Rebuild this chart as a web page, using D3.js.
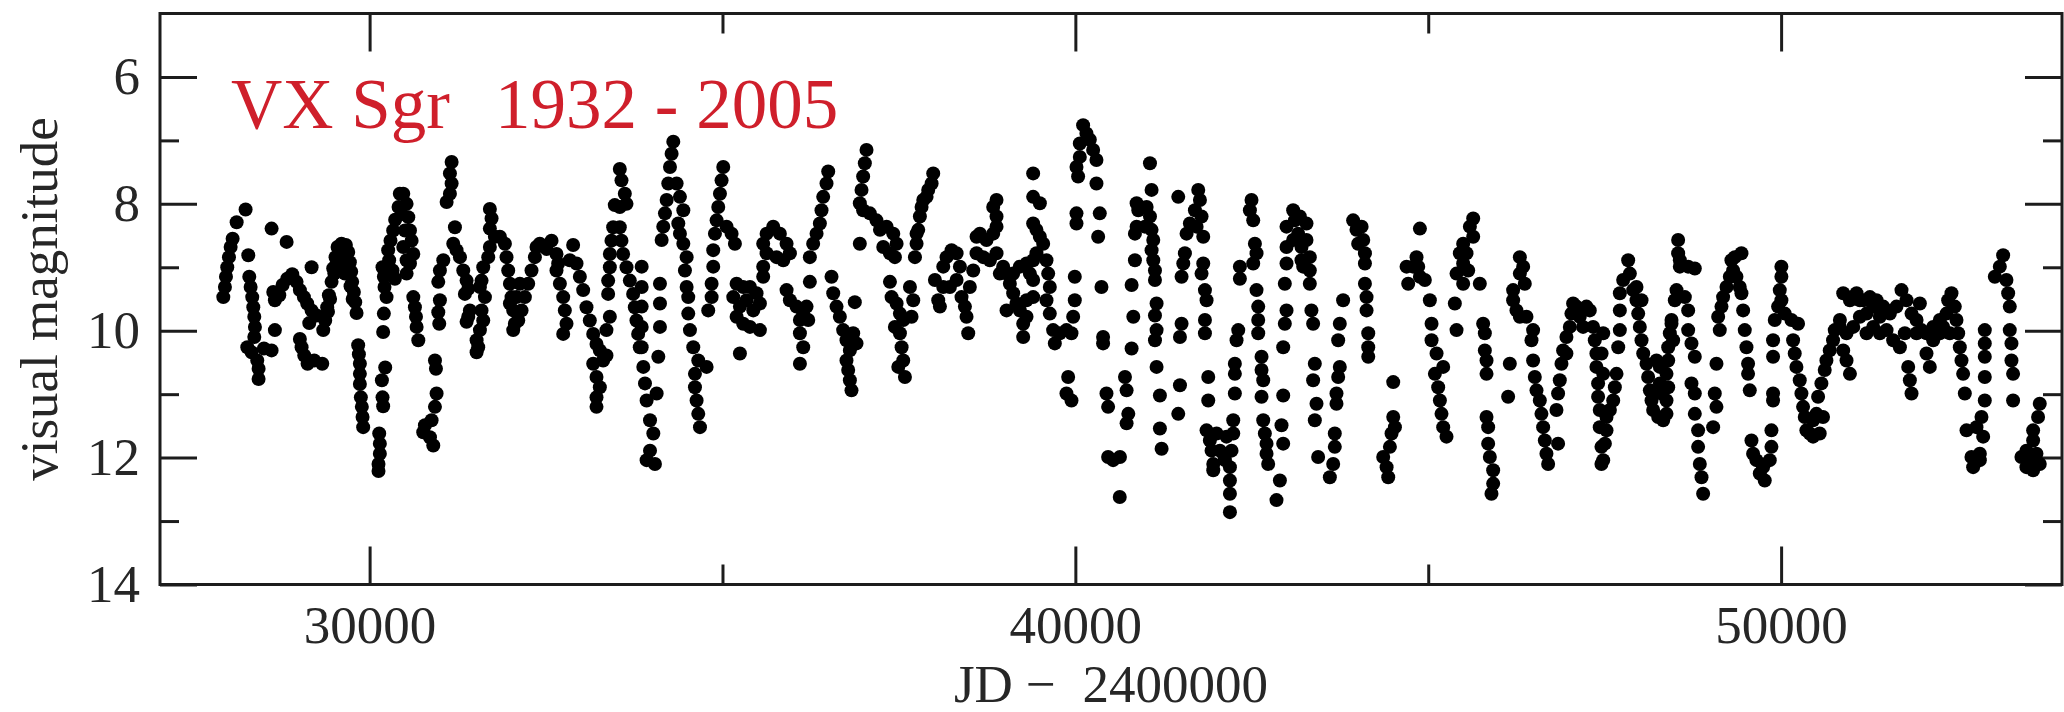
<!DOCTYPE html>
<html>
<head>
<meta charset="utf-8">
<script src="https://cdnjs.cloudflare.com/ajax/libs/d3/7.8.5/d3.min.js"></script>
<style>
  html, body { margin: 0; padding: 0; background: #fff; }
  svg { display: block; }
</style>
</head>
<body>
<div id="chart"></div>
<script>
// VX Sgr visual light curve, [JD - 2400000, visual magnitude]
const jd27k = [
  [27927,9.47],[27950,9.31],[27965,9.15],[27983,9.00],[28007,8.84],[28031,8.68],[28059,8.55],[28116,8.29],[28243,8.09],
  [28281,8.81],[28295,9.15],[28314,9.31],[28337,9.47],[28352,9.63],[28366,9.78],[28375,9.94],[28366,10.10],[28267,10.26],
  [28328,10.34],[28408,10.47],[28427,10.60],[28427,10.76],[28503,10.28],[28611,10.31],[28658,9.99],
  [28611,8.39],[28824,8.60],[29178,9.00],
  [28635,9.39],[28658,9.52],[28720,9.44],[28767,9.28],[28833,9.18],[28904,9.11],[28965,9.23],[29012,9.36],[29069,9.47],
  [29116,9.57],[29178,9.68],[29248,9.76],
  [29012,10.13],[29036,10.26],[29074,10.39],[29121,10.52],[29215,10.47],[29329,10.52],[29145,9.88],
  [29343,9.99],[29371,9.84],[29399,9.63],[29423,9.44],[29461,9.23],[29484,9.02],[29517,8.84],[29546,8.68],[29602,8.63],
  [29664,8.65],[29697,8.76],[29720,8.92],[29739,9.07],[29753,9.23],[29777,9.39],[29796,9.55],[29815,9.72],[29579,8.79],
  [29626,8.94],[29650,9.10],[29410,9.70],[29440,9.50],[29500,9.10],[29530,8.95],[29700,9.00],[29730,9.30],[29760,9.50],
  [29838,10.23],[29848,10.37],[29862,10.52],[29862,10.68],[29862,10.84],[29876,11.05],[29890,11.20],[29900,11.36],[29909,11.52],
  [30183,9.00],[30202,9.15],[30211,9.31],[30240,9.47],[30202,9.73],[30192,10.02],[30221,10.58],[30174,10.78],[30183,11.05],
  [30192,11.19],[30136,11.62],[30145,11.78],[30145,11.94],[30126,12.10],[30126,12.21],
  [30428,7.84],[30410,8.05],[30362,8.25],[30334,8.42],[30296,8.58],[30263,8.73],[30277,8.89],[30325,9.05],[30358,9.18]
];

const jd30k = [
  [30477,7.84],[30524,8.00],[30548,8.21],[30572,8.42],[30595,8.58],[30619,8.79],[30572,8.94],[30524,9.10],[30619,9.47],
  [30642,9.63],[30657,9.78],[30666,9.94],[30690,10.15],[30454,8.16],[30501,8.42],[30477,8.68],[30524,8.89],
  [31162,7.34],[31138,7.52],[31162,7.68],[31138,7.84],[31091,7.97],[31209,8.37],[31185,8.63],[31232,8.73],[31280,8.84],
  [31327,9.05],[31374,9.21],[31398,9.34],[31350,9.42],
  [31044,8.89],[30996,9.05],[30973,9.23],[30996,9.52],[30973,9.71],[30987,9.89],[30926,10.47],[30940,10.60],[30949,10.99],
  [30926,11.20],[30878,11.41],[30784,11.49],[30760,11.60],[30855,11.68],[30902,11.81],
  [31704,8.08],[31728,8.23],[31704,8.39],[31775,8.52],[31704,8.68],[31681,8.84],[31610,9.00],[31586,9.21],[31563,9.31],
  [31634,9.47],[31586,9.68],[31610,9.84],[31563,9.99],[31516,10.15],[31539,10.26],[31516,10.34],[31421,9.68],[31398,9.78],
  [31374,9.86],
  [31846,8.52],[31917,8.63],[31940,8.84],[31964,9.05],[31988,9.26],[32011,9.47],[32035,9.68],[32058,9.89],[32035,9.99],
  [32106,9.84],[32153,9.68],[32200,9.47],[32247,9.26],[32294,9.05],[32342,8.84],[32365,8.68],[32412,8.63],[32507,8.71],
  [32578,8.58],[32648,8.79],[32672,8.94],[32082,9.47],[32129,9.26],[31988,9.57],
  [32648,9.05],[32696,9.26],[32743,9.47],[32766,9.68],[32790,9.89],[32743,10.05],[32837,8.89],[32884,8.65],[32932,8.94],
  [32979,9.15],[33026,9.36],[33073,9.63],[33120,9.84],[33168,10.05],[33215,10.21],[33262,10.31],[33309,10.47],[33356,10.39],
  [33168,10.52],[33215,10.73],[33262,10.89],[33215,11.05],[33215,11.20],
  [33545,7.45],[33569,7.63],[33616,7.84],[33640,8.00],[33545,8.05],[33474,8.02],[33545,8.37],[33569,8.58],[33592,8.79],
  [33640,9.00],[33687,9.21],[33734,9.42],[33758,9.63],[33781,9.84],[33805,10.05],[33828,10.26],
  [33451,8.37],[33427,8.58],[33404,8.79],[33404,9.00],[33380,9.21],[33380,9.42],[33404,9.78],[33356,9.99]
];

const jd34k = [
  [33855,8.99],[33855,9.31],[33855,9.62],[33855,9.94],[33855,10.26],[33878,10.57],[33902,10.83],[33925,11.10],[33973,11.41],
  [34020,11.62],[33973,11.89],[33925,12.04],[34043,12.10],
  [34067,10.99],[34091,10.41],[34114,9.94],[34114,9.57],[34114,9.26],[34138,8.57],[34161,8.36],[34185,8.15],[34209,7.94],
  [34232,7.68],[34256,7.42],[34279,7.21],[34303,7.02],
  [34350,7.68],[34397,7.89],[34445,8.10],[34374,8.31],[34397,8.47],[34445,8.63],[34492,8.84],[34468,9.05],[34492,9.31],
  [34515,9.47],[34515,9.73],[34539,9.99],[34586,10.26],[34657,10.47],[34775,10.57],[34610,10.68],[34610,10.89],[34633,11.10],
  [34657,11.31],[34681,11.52],
  [35011,7.42],[34987,7.63],[34964,7.84],[34940,8.05],[34917,8.26],[34893,8.47],[35058,8.36],[35129,8.47],[35176,8.63],
  [34869,8.73],[34869,8.99],[34846,9.26],[34846,9.47],[34798,9.68],
  [35200,9.26],[35294,9.31],[35389,9.31],[35483,9.41],[35530,9.57],[35436,9.68],[35247,9.62],[35200,9.78],[35294,9.89],
  [35389,9.94],[35530,9.99],[35247,10.36],[35153,9.47],[35341,9.52],
  [35577,8.63],[35625,8.47],[35719,8.36],[35813,8.47],[35908,8.63],[35955,8.78],[35861,8.89],[35766,8.84],[35625,8.78],
  [35577,8.99],[35577,9.15],[35908,9.36],[35955,9.52],[36049,9.62],[36144,9.73],[36097,9.83],[36097,10.04],[36144,10.26],
  [36097,10.52],
  [36238,8.84],[36285,8.63],[36333,8.47],[36380,8.31],[36403,8.10],[36427,7.89],[36474,7.68],[36498,7.49],[36238,9.23],
  [36191,9.62],[36215,9.83],
  [36545,9.15],[36569,9.41],[36616,9.62],[36663,9.78],[36710,9.99],[36757,10.15],[36805,10.31],[36757,10.47],[36781,10.62],
  [36805,10.78],[36828,10.94],[36875,9.55],[36852,10.04],[36899,10.20],
  [37041,7.15],[37017,7.36],[36993,7.57],[36970,7.78],[36946,7.99],[36993,8.10],[37088,8.15],[37182,8.26],[36946,8.63]
];

const jd37k = [
  [37231,8.41],[37325,8.36],[37420,8.47],[37467,8.63],[37443,8.84],[37373,8.78],[37278,8.68],[37373,9.23],[37396,9.47],
  [37467,9.57],[37514,9.73],[37561,9.83],[37514,10.04],[37538,10.26],[37561,10.47],[37585,10.73],[37656,9.31],[37703,9.52],
  [37679,9.78],[37491,10.57],[37443,9.94],
  [37727,8.84],[37750,8.63],[37774,8.41],[37797,8.20],[37821,8.05],[37845,7.94],[37915,7.78],[37963,7.68],[37986,7.52],
  [37892,7.89],[37750,8.47],
  [38010,9.20],[38057,9.52],[38081,9.62],[38128,8.99],[38175,8.84],[38246,8.73],[38317,8.78],[38364,8.99],[38317,9.20],
  [38222,9.31],[38128,9.31],
  [38387,9.47],[38435,9.62],[38458,9.78],[38482,10.04],[38505,9.31],[38553,9.05],[38600,8.78],[38600,8.52],[38647,8.47],
  [38741,8.57],[38836,8.47],[38883,8.36],[38883,8.20],[38883,7.94],[38836,8.05],
  [38694,8.84],[38789,8.89],[38883,8.78],[38977,8.99],[39025,9.10],[39072,9.26],[39119,9.41],[39166,9.57],[39025,9.68],
  [39213,9.68],[39261,9.89],[39261,10.10],[39308,9.78],[39213,8.99],[39308,8.94],[39402,8.89],[39449,8.78],[39355,9.10],
  [39402,9.20],[39402,9.47],[39308,9.52],[39119,9.10],[38930,9.10],
  [39402,7.52],[39402,7.89],[39497,7.99],[39402,8.31],[39449,8.41],[39497,8.52],[39544,8.63],[39591,8.89],[39615,9.10],
  [39638,9.31],[39591,9.52],[39638,9.73],[39685,9.99],[39709,10.20],[39780,10.04],[39874,9.99],[39945,10.04],
  [40110,6.76],[40157,6.89],[40205,6.99],[40252,7.15],[40299,7.31],[40063,7.05],[40063,7.26],[40016,7.42],[40039,7.57],
  [40016,8.15],[40016,8.31],[39992,9.15],[39992,9.52],[39969,9.78],[39898,10.73],[39874,10.99],[39945,11.10],[40299,7.68],
  [40346,8.15],[40323,8.52],[40370,9.31],[40393,10.10],[40393,10.20],[40441,10.99],[40464,11.20],[40464,11.99],[40535,12.04],
  [40629,12.62]
];

const jd41k = [
  [40632,11.99],[40703,10.73],[40726,10.94],[40750,11.31],[40726,11.46],[40797,10.28],[40821,9.78],[40797,9.28],[40844,8.89],
  [40844,8.47],[40868,8.36],[40892,8.10],[40868,7.99],
  [41057,7.36],[41080,7.78],[41010,8.05],[41057,8.20],[40986,8.36],[41080,8.41],[41104,8.57],[41080,8.73],[41104,8.89],
  [41128,9.05],[41128,9.20],[41151,9.57],[41128,9.76],[41151,9.99],[41128,10.15],[41151,10.57],[41198,11.02],[41198,11.54],
  [41222,11.86],
  [41458,7.89],[41741,7.78],[41765,7.94],[41694,8.10],[41788,8.20],[41623,8.31],[41718,8.36],[41576,8.47],[41812,8.52],
  [41552,8.78],[41529,8.94],[41505,9.15],[41812,8.94],[41788,9.10],[41836,9.36],[41859,9.52],[41836,9.83],[41836,10.04],
  [41505,9.89],[41482,10.10],[41482,10.86],[41458,11.31],[41883,10.73],[41883,11.10],[41859,11.57],[41906,11.73],[41930,11.89],
  [41954,12.10],[41954,12.20],[42001,11.62],[42048,11.89],
  [42496,7.94],[42473,8.10],[42520,8.26],[42544,8.63],[42567,8.78],[42520,8.94],[42331,8.99],[42331,9.18],[42567,9.36],
  [42591,9.62],[42591,9.83],[42591,10.04],[42308,9.99],[42284,10.15],[42260,10.52],[42260,10.68],[42260,10.99],[42638,10.41],
  [42638,10.62],[42662,10.78],[42638,11.04],[42237,11.41],[42237,11.62],[42213,11.89],[42190,12.15],[42190,12.36],[42190,12.57],
  [42190,12.86],[42662,11.41],[42685,11.62],[42709,11.78],[42709,11.94],[42732,12.10],[42142,11.67],[42095,11.94],[42119,12.04],
  [43086,8.10],[43181,8.20],[43275,8.31],[42992,8.36],[43275,8.57],[42992,8.68],[43322,8.84],[42992,8.94],[43322,9.05],
  [42968,9.26],[43322,9.26],[42992,9.68],[42968,9.89],[42945,10.26],[43345,9.68],[43369,9.89],[42945,11.02],[42921,11.49],
  [42945,11.78],[42898,12.36],[42850,12.67],[43110,8.26],[43157,8.47],[43204,8.68],[43086,8.57],[43204,8.89],[43228,8.99],
  [43393,10.52],[43369,10.78],[43417,11.15],[43393,11.41],[43440,11.99],[43794,9.52],[43747,9.89],[43724,10.15],[43747,10.57],
  [43724,10.73],[43700,10.99],[43700,11.15],[43676,11.62],[43676,11.83],[43653,12.10],[43606,12.31],
  [43936,8.26],[43983,8.41],[44007,8.63]
];

const jd44k = [
  [44056,8.36],[44079,8.57],[44103,8.78],[44103,8.94],[44103,9.26],[44126,9.47],[44126,9.68],[44150,10.04],[44150,10.26],
  [44150,10.41],
  [44504,10.81],[44504,11.36],[44480,11.62],[44457,11.83],[44362,11.99],[44410,12.15],[44433,12.31],[44528,11.52],
  [44882,8.39],[44834,8.84],[44787,8.99],[44693,8.99],[44716,9.26],[44882,9.15],[44952,9.20],[45023,9.52],[45047,9.89],
  [45047,10.15],[45118,10.36],[45212,10.57],[45094,10.68],[45141,10.89],[45165,11.10],[45188,11.31],[45212,11.52],[45259,11.67],
  [44858,8.99],
  [45637,8.23],[45590,8.36],[45637,8.52],[45495,8.63],[45448,8.78],[45495,8.94],[45401,9.10],[45495,9.26],[45731,9.26],
  [45377,9.57],[45401,9.99],[45778,9.89],[45802,10.04],[45802,10.31],[45826,10.47],[45826,10.68],[45826,11.36],[45849,11.52],
  [45849,11.78],[45873,11.99],[45920,12.20],[45920,12.41],[45896,12.57],[45542,8.78],[45566,9.05],
  [46298,8.84],[46345,8.99],[46298,9.10],[46368,9.26],[46203,9.36],[46203,9.52],[46250,9.68],[46298,9.78],[46392,9.78],
  [46486,9.99],[46463,10.15],[46486,10.47],[46510,10.73],[46156,10.52],[46132,11.04],[46534,10.94],[46581,11.10],[46604,11.31],
  [46628,11.52],[46652,11.73],[46675,11.94],[46699,12.10],[46840,11.78],
  [46817,11.25],[46840,10.99],[46864,10.78],[46888,10.52],[46911,10.31],[46958,10.10],[47006,9.94],[47029,9.73],[47053,9.57],
  [47147,9.78],[47194,9.94],[47289,9.68],[47336,9.94],[47360,10.15],[47383,10.36],[47383,10.57],[47407,10.83],[47407,11.04],
  [47430,11.25],[47430,11.52],[47454,11.83],[47454,12.10],[47100,9.62],[47242,9.62],[46958,10.36]
];

const jd47k = [
  [47479,12.04],[47503,11.78],[47526,11.57],[47526,11.36],[47574,11.25],[47621,11.10],[47644,10.89],[47668,10.68],[47479,10.04],
  [47692,10.26],[47715,9.99],[47715,9.68],[47715,9.41],[47762,9.20],[47833,8.89],[47456,10.36],[47479,10.68],
  [47857,9.10],[47904,9.36],[47951,9.52],[47975,9.73],[47998,9.94],[48022,10.15],[48046,10.36],[48093,10.52],[48116,10.73],
  [48140,10.94],[48164,11.10],[48187,11.25],[48258,11.36],[48329,11.41],[48376,11.31],[48376,11.10],[48400,10.89],[48376,10.68],
  [48400,10.47],[48400,10.26],[48423,10.04],[48447,9.89],[48470,10.15],[48282,10.83],[48305,10.99],[48282,10.57],[48234,10.47],
  [47951,9.31],[48022,9.52],
  [48541,8.57],[48541,8.78],[48565,8.99],[48683,8.99],[48777,9.02],[48518,9.36],[48494,9.52],[48636,9.47],[48683,9.68],
  [48683,9.99],[48730,10.20],[48777,10.41],[48730,10.83],[48777,10.99],[48777,11.31],[48824,11.57],[48824,11.83],[48848,12.10],
  [48872,12.31],[48895,12.57],[48565,8.89],[48447,9.83],
  [49084,10.52],[49060,10.99],[49084,11.20],[49037,11.52],
  [49438,8.78],[49344,8.84],[49296,8.89],[49320,9.05],[49273,9.15],[49226,9.31],[49178,9.47],[49155,9.62],[49108,9.78],
  [49131,9.99],[49438,9.41],[49462,9.68],[49485,9.99],[49509,10.26],[49532,10.52],[49532,10.68],[49556,10.94],[49367,9.15],
  [49414,9.31],
  [49580,11.73],[49603,11.94],[49650,12.04],[49745,12.15],[49768,12.36],[49839,12.04],[49863,11.83],[49863,11.57],[49886,10.99],
  [49886,11.10],[49698,12.25],
  [50004,8.99],[50004,9.15],[49981,9.36],[50004,9.52],[49957,9.62],[49910,9.83],[49886,10.15],[49886,10.41],[50146,9.83],
  [50240,9.89],[50170,10.15],[50193,10.36],[50217,10.57],[50264,10.78],[50288,10.99],[50311,11.20],[50052,9.73],
  [50335,11.36],[50358,11.57],[50453,11.67],[50547,11.62],[50594,11.36],[50500,11.31],[50453,11.41],[50406,11.62],
  [50524,11.04],[50571,10.83],[50618,10.62],[50642,10.47],[50689,10.31],[50736,10.15],[50760,9.99],[50830,9.94]
];

const jd51k = [
  [50880,9.41],[50975,9.52],[51069,9.41],[51163,9.52],[51258,9.47],[51352,9.52],[51447,9.62],[51541,9.73],[51635,9.62],
  [51706,9.36],[51777,9.52],[51848,9.73],[51919,9.83],[51989,9.99],[52060,10.04],[52155,9.94],[52249,9.83],[52343,9.73],
  [52414,9.41],[52461,9.62],[52485,9.83],[52509,10.04],[52532,10.26],[52556,10.47],[52579,10.68],[52603,10.99],[50833,9.83],
  [50927,10.04],[51022,9.94],[51116,9.78],[51211,9.73],[51305,9.94],[51399,10.04],[51494,9.99],[51588,10.15],[51683,10.26],
  [51753,10.04],[51966,9.57],[51801,10.57],[51824,10.78],[51848,10.99],[52060,10.36],[52107,10.57],[52155,10.15],[52249,10.04],
  [50927,10.47],[50975,10.68],[50880,10.31],[52367,9.52],[52296,9.94],[52390,10.04],[51116,9.52],[51305,9.62],[51494,9.68],
  [51399,9.78],[51211,10.04],[51919,10.04],
  [52886,9.99],[52886,10.20],[52886,10.41],[52886,10.73],[52886,11.10],[52839,11.36],[52768,11.52],[52863,11.67],[52697,11.99],
  [52721,12.15],[52816,11.94],[52627,11.57],[52816,12.04],
  [53146,8.81],[53099,8.99],[53028,9.15],[53193,9.20],[53217,9.41],[53240,9.62],[53240,9.99],[53264,10.20],[53264,10.47],
  [53287,10.68],[53287,11.10],
  [53665,11.15],[53641,11.36],[53571,11.57],[53571,11.73],[53476,11.89],[53405,11.99],[53476,12.15],[53571,12.20],[53665,12.10],
  [53618,11.94],[53524,12.04]
];

const xMajor = [30000, 40000, 50000];
const xMinor = [35000, 45000];
const yMajor = [6, 8, 10, 12, 14];
const yMinor = [7, 9, 11, 13];
const titleStar = "VX Sgr";
const titleYears = "1932 - 2005";
const xLabel = "JD \u2212  2400000";
const yLabel = "visual magnitude";

/** Graph configs */
const width = 2064;
const height = 712;
const plot = { left: 160, right: 2062, top: 13.5, bottom: 584.5 };
const ink = "#1c1c1c";
const labelFont = "'Liberation Serif', 'Times New Roman', serif";

const svg = d3
  .select("#chart")
  .append("svg")
  .attr("width", width)
  .attr("height", height)
  .style("background", "#fff");

const x = d3.scaleLinear().domain([27030, 53980]).range([plot.left, plot.right]);
const y = d3.scaleLinear().domain([5, 14]).range([plot.top, plot.bottom]);

// tick marks point inward on all four sides
const styleAxis = (g) => {
  g.select(".domain").remove();
  g.selectAll(".tick line").attr("stroke", ink).attr("stroke-width", 3);
  g.selectAll(".tick text")
    .attr("fill", "#262626")
    .style("font-family", labelFont)
    .style("font-size", "53px");
};

svg.append("g")
  .attr("transform", `translate(0,${plot.bottom})`)
  .call(d3.axisBottom(x).tickValues(xMajor).tickSizeInner(-38).tickSizeOuter(0).tickPadding(21).tickFormat(d3.format("d")))
  .call(styleAxis);
svg.append("g")
  .attr("transform", `translate(0,${plot.bottom})`)
  .call(d3.axisBottom(x).tickValues(xMinor).tickSizeInner(-20).tickSizeOuter(0).tickFormat(""))
  .call(styleAxis);
svg.append("g")
  .attr("transform", `translate(0,${plot.top})`)
  .call(d3.axisTop(x).tickValues(xMajor).tickSizeInner(-38).tickSizeOuter(0).tickFormat(""))
  .call(styleAxis);
svg.append("g")
  .attr("transform", `translate(0,${plot.top})`)
  .call(d3.axisTop(x).tickValues(xMinor).tickSizeInner(-20).tickSizeOuter(0).tickFormat(""))
  .call(styleAxis);

svg.append("g")
  .attr("transform", `translate(${plot.left},0)`)
  .call(d3.axisLeft(y).tickValues(yMajor).tickSizeInner(-37).tickSizeOuter(0).tickPadding(20).tickFormat(d3.format("d")))
  .call(styleAxis);
svg.append("g")
  .attr("transform", `translate(${plot.left},0)`)
  .call(d3.axisLeft(y).tickValues(yMinor).tickSizeInner(-19).tickSizeOuter(0).tickFormat(""))
  .call(styleAxis);
svg.append("g")
  .attr("transform", `translate(${plot.right},0)`)
  .call(d3.axisRight(y).tickValues(yMajor).tickSizeInner(-37).tickSizeOuter(0).tickFormat(""))
  .call(styleAxis);
svg.append("g")
  .attr("transform", `translate(${plot.right},0)`)
  .call(d3.axisRight(y).tickValues(yMinor).tickSizeInner(-19).tickSizeOuter(0).tickFormat(""))
  .call(styleAxis);

// frame
svg.append("rect")
  .attr("x", plot.left)
  .attr("y", plot.top)
  .attr("width", plot.right - plot.left)
  .attr("height", plot.bottom - plot.top)
  .attr("fill", "none")
  .attr("stroke", ink)
  .attr("stroke-width", 3);

// observations
const observations = [].concat(jd27k, jd30k, jd34k, jd37k, jd41k, jd44k, jd47k, jd51k);
svg.append("g")
  .selectAll("circle")
  .data(observations)
  .join("circle")
  .attr("cx", (d) => x(d[0]))
  .attr("cy", (d) => y(d[1]))
  .attr("r", 7)
  .attr("fill", "#000");

// axis titles
svg.append("text")
  .attr("x", (plot.left + plot.right) / 2)
  .attr("y", 702)
  .attr("text-anchor", "middle")
  .attr("fill", "#262626")
  .style("font-family", labelFont)
  .style("font-size", "53px")
  .style("white-space", "pre")
  .text(xLabel);

svg.append("text")
  .attr("transform", `translate(57,${(plot.top + plot.bottom) / 2}) rotate(-90)`)
  .attr("text-anchor", "middle")
  .attr("fill", "#262626")
  .style("font-family", labelFont)
  .style("font-size", "53px")
  .text(yLabel);

// red caption inside the frame
const caption = svg.append("g")
  .attr("fill", "#cf1f2b")
  .style("font-family", labelFont)
  .style("font-size", "71px");
caption.append("text").attr("x", 231).attr("y", 128).text(titleStar);
caption.append("text").attr("x", 495).attr("y", 128).text(titleYears);
</script>
</body>
</html>
